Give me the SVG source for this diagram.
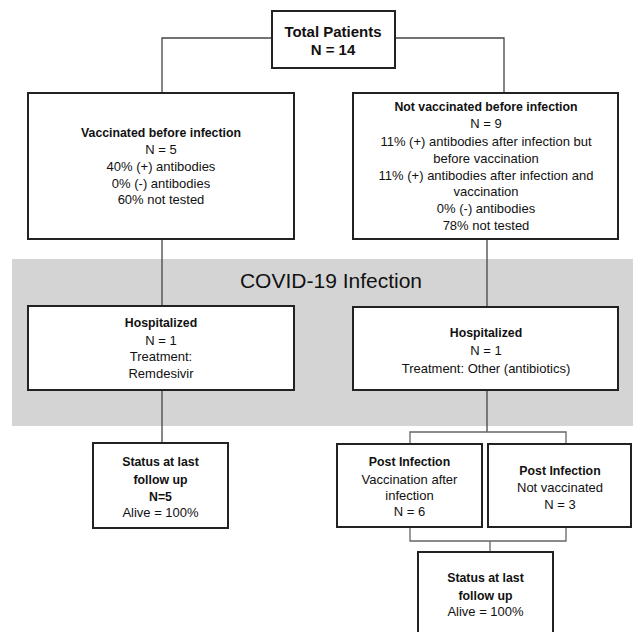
<svg xmlns="http://www.w3.org/2000/svg" width="633" height="632" viewBox="0 0 633 632">
<style>
.box{fill:#fff;stroke:#222;stroke-width:2}
.ln{fill:none;stroke:#444;stroke-width:1.3}
.br{fill:none;stroke:#666;stroke-width:1.3}
text{font-family:"Liberation Sans",Arial,sans-serif;fill:#111;text-anchor:middle;font-size:13px}
.b{font-weight:bold;font-size:12.3px}
</style>
<rect x="0" y="0" width="633" height="632" fill="#fff"/>
<rect id="band" x="12" y="259" width="621" height="167" fill="#d4d4d4"/>
<text x="331" y="288" style="font-size:21px">COVID-19 Infection</text>
<g id="connectors">
<path class="ln" d="M272,38 H162 V93"/>
<path class="ln" d="M395,38 H504 V93"/>
<path class="ln" d="M162,239 V306"/>
<path class="ln" d="M487,239 V307"/>
<path class="ln" d="M162,390 V443"/>
<path class="ln" d="M487,390 V432"/>
<path class="br" d="M410,444 V432 H566 V444"/>
<path class="br" d="M410,527 V541 H566 V527"/>
<path class="br" d="M490,541 V552"/>
</g>
<g id="total">
<rect class="box" x="272" y="11" width="123" height="57"/>
<text x="333" y="36.5" class="b" style="font-size:15px">Total Patients</text>
<text x="333" y="55" class="b" style="font-size:15px">N = 14</text>
</g>
<g id="vacc">
<rect class="box" x="28" y="93" width="266" height="146"/>
<text x="161" y="137" class="b">Vaccinated before infection</text>
<text x="161" y="154">N = 5</text>
<text x="161" y="171">40% (+) antibodies</text>
<text x="161" y="188">0% (-) antibodies</text>
<text x="161" y="204">60% not tested</text>
</g>
<g id="notvacc">
<rect class="box" x="353" y="93" width="265" height="146"/>
<text x="486" y="111" class="b">Not vaccinated before infection</text>
<text x="486" y="128">N = 9</text>
<text x="486" y="145.5">11% (+) antibodies after infection but</text>
<text x="486" y="162.5">before vaccination</text>
<text x="486" y="179.5">11% (+) antibodies after infection and</text>
<text x="486" y="196">vaccination</text>
<text x="486" y="213">0% (-) antibodies</text>
<text x="486" y="230">78% not tested</text>
</g>
<g id="hosp1">
<rect class="box" x="28" y="306" width="266" height="84"/>
<text x="161" y="327" class="b">Hospitalized</text>
<text x="161" y="344.5">N = 1</text>
<text x="161" y="361">Treatment:</text>
<text x="161" y="377.5">Remdesivir</text>
</g>
<g id="hosp2">
<rect class="box" x="353" y="307" width="265" height="83"/>
<text x="486" y="337" class="b">Hospitalized</text>
<text x="486" y="355">N = 1</text>
<text x="486" y="372.5">Treatment: Other (antibiotics)</text>
</g>
<g id="status1">
<rect class="box" x="93" y="443" width="135" height="85"/>
<text x="160.5" y="466" class="b">Status at last</text>
<text x="160.5" y="483.5" class="b">follow up</text>
<text x="160.5" y="500.5" class="b">N=5</text>
<text x="160.5" y="517">Alive = 100%</text>
</g>
<g id="post1">
<rect class="box" x="337" y="444" width="145" height="83"/>
<text x="409.5" y="465.5" class="b">Post Infection</text>
<text x="409.5" y="483.5">Vaccination after</text>
<text x="409.5" y="500">infection</text>
<text x="409.5" y="516">N = 6</text>
</g>
<g id="post2">
<rect class="box" x="488" y="444" width="143" height="83"/>
<text x="560" y="474.5" class="b">Post Infection</text>
<text x="560" y="491.5">Not vaccinated</text>
<text x="560" y="508.5">N = 3</text>
</g>
<g id="status2">
<rect class="box" x="418" y="552" width="135" height="90"/>
<text x="485.5" y="582" class="b">Status at last</text>
<text x="485.5" y="600" class="b">follow up</text>
<text x="485.5" y="616">Alive = 100%</text>
</g>
</svg>
